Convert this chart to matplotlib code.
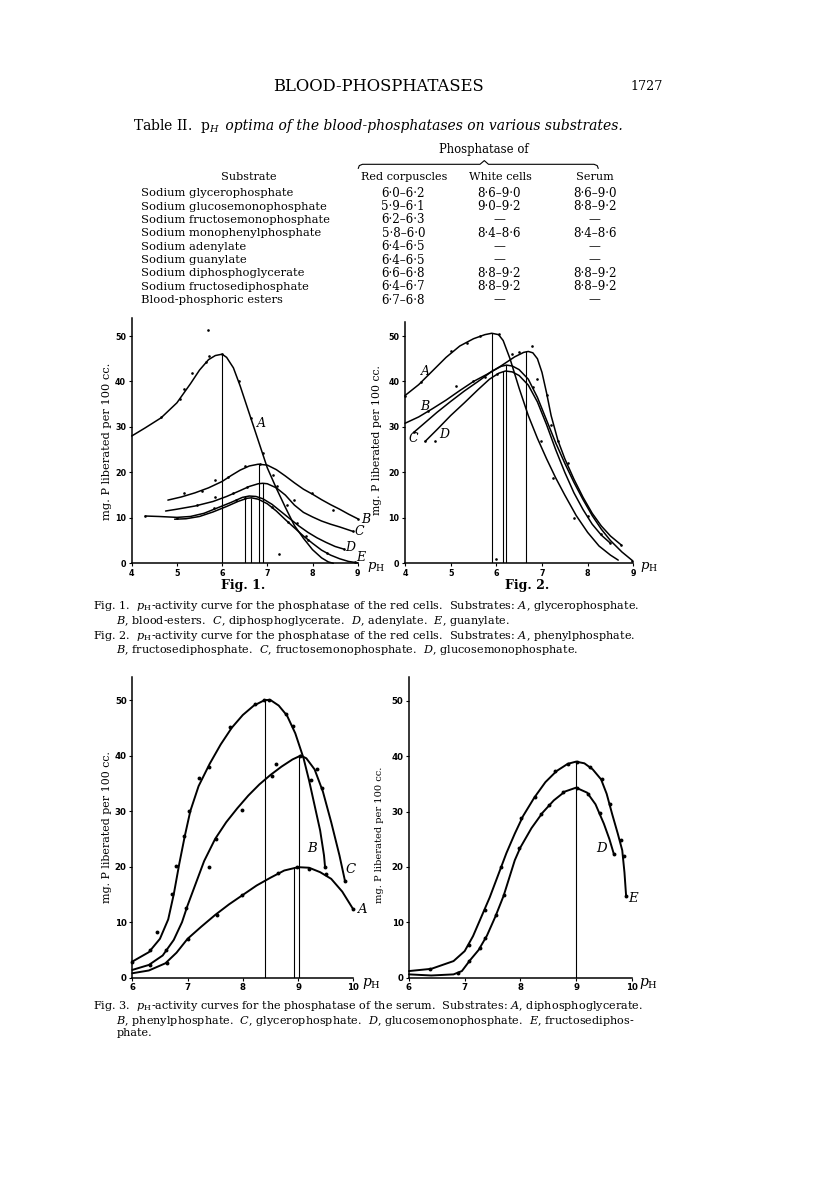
import matplotlib
matplotlib.use("Agg")
import matplotlib.pyplot as plt
from matplotlib.lines import Line2D

# ---------------- DATA ----------------
# Table II
table_substrates = ["Sodium glycerophosphate", "Sodium glucosemonophosphate",
                    "Sodium fructosemonophosphate", "Sodium monophenylphosphate",
                    "Sodium adenylate", "Sodium guanylate", "Sodium diphosphoglycerate",
                    "Sodium fructosediphosphate", "Blood-phosphoric esters"]
table_red = ["6·0–6·2", "5·9–6·1", "6·2–6·3", "5·8–6·0", "6·4–6·5", "6·4–6·5",
             "6·6–6·8", "6·4–6·7", "6·7–6·8"]
table_white = ["8·6–9·0", "9·0–9·2", "—", "8·4–8·6", "—", "—", "8·8–9·2", "8·8–9·2", "—"]
table_serum = ["8·6–9·0", "8·8–9·2", "—", "8·4–8·6", "—", "—", "8·8–9·2", "8·8–9·2", "—"]

# Fig. 1 (red cells)
f1_A_x = [4.0, 4.3, 4.65, 5.0, 5.3, 5.5, 5.7, 5.85, 6.0, 6.1, 6.25, 6.4, 6.55, 6.7, 6.85, 7.0, 7.2, 7.4, 7.6, 7.8, 8.0, 8.2, 8.35, 8.46]
f1_A_y = [28.0, 29.8, 32.0, 35.3, 39.5, 42.5, 44.8, 45.7, 46.0, 45.3, 43.0, 39.0, 34.5, 30.0, 25.5, 21.0, 16.5, 12.3, 8.3, 5.5, 3.0, 1.2, 0.3, 0.0]
f1_B_x = [4.8, 5.1, 5.4, 5.7, 6.0, 6.2, 6.4, 6.6, 6.8, 7.0, 7.2, 7.4, 7.6, 7.8, 8.0, 8.2, 8.4, 8.6, 8.8, 9.0]
f1_B_y = [13.9, 14.6, 15.5, 16.6, 18.0, 19.3, 20.5, 21.4, 21.8, 21.6, 20.6, 19.2, 17.7, 16.3, 15.2, 14.0, 12.9, 11.9, 10.8, 9.8]
f1_C_x = [4.75, 5.0, 5.4, 5.8, 6.1, 6.4, 6.6, 6.8, 6.9, 7.0, 7.2, 7.4, 7.6, 7.8, 8.0, 8.2, 8.4, 8.6, 8.9]
f1_C_y = [11.5, 11.9, 12.6, 13.6, 14.7, 16.0, 16.9, 17.5, 17.6, 17.5, 16.6, 15.0, 12.8, 11.2, 10.2, 9.3, 8.6, 8.0, 7.0]
f1_D_x = [4.3, 4.6, 5.0, 5.3, 5.6, 5.9, 6.2, 6.45, 6.6, 6.75, 6.9, 7.1, 7.3, 7.5, 7.7, 7.9, 8.1, 8.3, 8.5, 8.7]
f1_D_y = [10.4, 10.3, 10.1, 10.3, 11.0, 12.2, 13.4, 14.5, 14.8, 14.7, 14.2, 13.0, 11.4, 9.8, 8.2, 6.8, 5.6, 4.6, 3.7, 3.1]
f1_E_x = [4.95, 5.2, 5.5, 5.8, 6.1, 6.35, 6.55, 6.65, 6.8, 7.0, 7.2, 7.4, 7.6, 7.8, 8.0, 8.2, 8.4, 8.6, 8.8, 9.0]
f1_E_y = [9.7, 9.8, 10.3, 11.3, 12.5, 13.6, 14.3, 14.4, 14.1, 13.1, 11.5, 9.6, 7.8, 6.0, 4.4, 2.9, 1.8, 1.0, 0.4, 0.1]
f1_dots_x = [4.65, 5.07, 5.16, 5.33, 5.64, 5.72, 5.99, 6.38, 6.63, 6.91, 7.43, 7.65, 7.91, 5.69,
             5.16, 5.55, 5.84, 6.14, 6.51, 6.84, 7.13, 7.98, 8.46, 9.0,
             5.44, 5.84, 6.25, 6.54, 7.21, 7.58, 8.89,
             4.3, 5.0, 5.81, 6.3, 6.5, 7.1, 7.45, 7.85, 8.7, 8.31, 8.93, 7.26]
f1_dots_y = [32.1, 36.1, 38.3, 41.9, 44.3, 45.5, 46.0, 40.0, 31.9, 24.2, 12.8, 8.8, 5.1, 51.3,
             15.4, 15.9, 18.3, 18.9, 21.3, 21.8, 19.4, 15.4, 11.7, 9.8,
             12.8, 14.5, 15.4, 16.7, 16.9, 13.9, 7.0,
             10.4, 10.0, 12.1, 14.0, 14.3, 12.3, 9.0, 6.0, 3.1, 2.2, 0.2, 2.0]
f1_opt_x = [6.0, 6.51, 6.63, 6.82, 6.90]
f1_opt_top = [46.0, 14.7, 14.4, 21.8, 17.6]

# Fig. 2 (red cells)
f2_A_x = [4.0, 4.3, 4.6, 4.9, 5.2, 5.5, 5.75, 5.9, 6.05, 6.15, 6.3, 6.5, 6.7, 6.9, 7.1, 7.3, 7.5, 7.75, 8.0, 8.25, 8.5, 8.67]
f2_A_y = [36.9, 39.3, 42.3, 45.3, 47.8, 49.4, 50.3, 50.6, 50.3, 49.0, 45.0, 38.5, 32.5, 27.5, 23.0, 18.8, 15.0, 10.5, 6.8, 3.8, 1.8, 0.7]
f2_B_x = [4.0, 4.3, 4.6, 4.9, 5.2, 5.5, 5.8, 6.1, 6.4, 6.6, 6.7, 6.8, 6.9, 7.0, 7.1, 7.2, 7.35, 7.5, 7.7, 7.9, 8.1, 8.3, 8.5, 8.74]
f2_B_y = [30.8, 32.2, 34.0, 35.9, 38.0, 40.0, 41.6, 43.4, 45.4, 46.4, 46.6, 46.3, 45.0, 42.0, 37.5, 32.5, 27.0, 23.0, 18.5, 14.5, 11.0, 8.2, 6.0, 4.0]
f2_C_x = [4.18, 4.4, 4.7, 5.0, 5.3, 5.6, 5.9, 6.1, 6.22, 6.35, 6.5, 6.7, 6.9, 7.1, 7.3, 7.5, 7.7, 7.9, 8.1, 8.3, 8.5, 8.75, 8.98]
f2_C_y = [28.7, 30.6, 33.2, 35.6, 37.9, 40.0, 42.2, 43.3, 43.6, 43.4, 42.6, 40.5, 36.5, 31.5, 26.5, 22.0, 17.8, 14.0, 10.5, 7.5, 5.0, 2.5, 0.6]
f2_D_x = [4.44, 4.7, 5.0, 5.3, 5.6, 5.85, 6.05, 6.2, 6.35, 6.5, 6.7, 6.9, 7.1, 7.3, 7.5, 7.7, 7.9, 8.1, 8.3, 8.49]
f2_D_y = [26.8, 29.4, 32.5, 35.3, 38.2, 40.5, 41.8, 42.3, 42.1, 41.3, 39.2, 35.5, 30.5, 25.0, 20.0, 15.5, 11.8, 8.6, 6.2, 4.5]
f2_dots_x = [4.0, 4.35, 5.0, 5.12, 5.35, 5.64, 6.05, 6.97, 7.25, 7.7,
             4.5, 5.5, 6.35, 6.5, 6.79, 7.1, 7.35, 7.58, 8.74,
             4.2, 5.75, 6.9, 7.2, 8.0, 8.98,
             4.44, 4.65, 6.02, 6.8, 8.3, 8.49, 5.99]
f2_dots_y = [36.9, 39.8, 46.7, 39.0, 48.5, 49.9, 50.5, 26.8, 18.7, 10.0,
             33.5, 40.1, 46.1, 46.4, 47.8, 37.0, 27.0, 22.0, 4.0,
             28.8, 41.0, 40.5, 30.5, 10.3, 0.6,
             26.8, 26.8, 41.7, 38.8, 6.5, 4.5, 0.95]
f2_opt_x = [5.90, 6.15, 6.21, 6.66]
f2_opt_top = [50.6, 42.3, 43.6, 46.6]

# Fig. 3 (serum), left panel
f3_A_x = [6.0, 6.3, 6.6, 6.8, 7.0, 7.25, 7.5, 7.75, 8.0, 8.25, 8.5, 8.75, 9.0, 9.2, 9.4, 9.6, 9.8, 10.0]
f3_A_y = [0.8, 1.3, 2.6, 4.5, 7.0, 9.2, 11.3, 13.2, 14.9, 16.6, 18.0, 19.3, 19.9, 19.8, 19.0, 17.8, 15.5, 12.3]
f3_B_x = [6.0, 6.3, 6.5, 6.65, 6.75, 6.85, 6.95, 7.05, 7.2, 7.4, 7.6, 7.8, 8.0, 8.2, 8.4, 8.5, 8.65, 8.8, 8.95, 9.1, 9.2, 9.3, 9.4, 9.47, 9.49]
f3_B_y = [2.9, 4.6, 7.0, 10.5, 15.0, 20.5, 25.5, 30.0, 34.5, 38.5, 42.0, 45.0, 47.3, 49.0, 50.0, 50.0, 49.0, 47.2, 44.0, 39.5, 35.5, 31.0, 26.5, 22.0, 19.8]
f3_C_x = [6.0, 6.3, 6.55, 6.75, 6.9, 7.0, 7.15, 7.3, 7.5, 7.7, 7.9, 8.1, 8.3, 8.5, 8.7, 8.9, 9.05, 9.15, 9.3, 9.45, 9.6, 9.75, 9.85]
f3_C_y = [1.4, 2.3, 4.0, 6.8, 10.0, 13.0, 17.0, 21.0, 25.0, 28.0, 30.5, 32.8, 34.8, 36.5, 38.0, 39.3, 40.0, 39.5, 37.5, 33.5, 28.0, 22.0, 17.4]
f3_dots_x = [6.0, 6.32, 6.44, 6.72, 6.79, 6.94, 7.03, 7.21, 7.38, 7.77, 8.22, 8.38, 8.47, 8.78, 8.90, 9.23, 9.49,
             6.32, 6.61, 6.98, 7.39, 7.51, 7.98, 8.52, 8.60, 9.03, 9.34, 9.43, 9.85,
             6.62, 7.01, 7.53, 7.98, 8.64, 8.99, 9.19, 9.51, 10.0]
f3_dots_y = [2.9, 4.9, 8.3, 15.0, 20.2, 25.6, 30.0, 36.0, 38.0, 45.1, 49.3, 50.0, 50.0, 47.4, 45.4, 35.6, 20.0,
             2.3, 4.9, 12.5, 20.0, 25.0, 30.2, 36.3, 38.5, 39.9, 37.5, 34.1, 17.4,
             2.6, 7.0, 11.3, 14.9, 18.8, 19.9, 19.6, 18.7, 12.3]
f3_opt_x = [8.40, 8.92, 9.02]
f3_opt_top = [50.0, 20.0, 40.0]

# Fig. 3 (serum), right panel
f4_D_x = [6.0, 6.4, 6.8, 6.95, 7.1, 7.25, 7.4, 7.55, 7.7, 7.8, 7.9, 8.0, 8.2, 8.4, 8.6, 8.8, 9.0, 9.2, 9.35, 9.5, 9.6, 9.68]
f4_D_y = [0.6, 0.4, 0.6, 1.2, 3.2, 5.0, 7.6, 11.0, 14.8, 18.0, 21.2, 23.5, 27.0, 29.8, 32.0, 33.6, 34.3, 33.4, 31.3, 27.8, 25.0, 22.3]
f4_E_x = [6.0, 6.4, 6.8, 7.0, 7.15, 7.3, 7.45, 7.6, 7.75, 7.9, 8.05, 8.25, 8.45, 8.65, 8.85, 9.0, 9.15, 9.3, 9.45, 9.55, 9.65, 9.75, 9.83, 9.87, 9.9]
f4_E_y = [1.2, 1.6, 3.0, 4.8, 7.5, 11.0, 14.5, 18.5, 22.5, 26.0, 29.2, 32.5, 35.3, 37.3, 38.6, 39.0, 38.7, 37.6, 35.8, 33.2, 29.5, 26.0, 23.0, 19.0, 14.7]
f4_dots_x = [6.38, 7.08, 7.37, 7.65, 8.02, 8.26, 8.62, 8.86, 9.01, 9.25, 9.47, 9.61, 9.80, 9.86, 9.90,
             6.88, 7.08, 7.28, 7.37, 7.56, 7.71, 7.98, 8.37, 8.51, 8.76, 9.01, 9.21, 9.43, 9.68]
f4_dots_y = [1.5, 5.9, 12.3, 19.9, 28.9, 32.7, 37.4, 38.6, 39.0, 38.0, 35.9, 31.3, 24.8, 22.0, 14.7,
             0.9, 3.0, 5.3, 7.1, 11.3, 14.9, 23.5, 29.5, 31.2, 33.6, 34.3, 33.2, 29.8, 22.3]
f4_opt_x = [9.0]
f4_opt_top = [39.0]

# Captions
cap_fig12 = [r"Fig. 1.  $p_{\rm H}$-activity curve for the phosphatase of the red cells.  Substrates: $A$, glycerophosphate.",
             r"$B$, blood-esters.  $C$, diphosphoglycerate.  $D$, adenylate.  $E$, guanylate.",
             r"Fig. 2.  $p_{\rm H}$-activity curve for the phosphatase of the red cells.  Substrates: $A$, phenylphosphate.",
             r"$B$, fructosediphosphate.  $C$, fructosemonophosphate.  $D$, glucosemonophosphate."]
cap_fig3 = [r"Fig. 3.  $p_{\rm H}$-activity curves for the phosphatase of the serum.  Substrates: $A$, diphosphoglycerate.",
            r"$B$, phenylphosphate.  $C$, glycerophosphate.  $D$, glucosemonophosphate.  $E$, fructosediphos-",
            "phate."]

# ---------------- FIGURE ----------------
W, H = 816, 1188
plt.rcParams["mathtext.fontset"] = "dejavuserif"
fig = plt.figure(figsize=(W / 100, H / 100), dpi=100)
fig.patch.set_facecolor("white")
renderer = fig.canvas.get_renderer()
SERIF = "DejaVu Serif"


def fx(x):
    return x / W


def fy(y):
    return 1 - y / H


def put(x, y, s, size, ha="left", va="center", rot=0, **kw):
    return fig.text(fx(x), fy(y), s, fontsize=size, ha=ha, va=va, rotation=rot,
                    family=SERIF, **kw)


def fit(x, y, s, width, ha="left", va="center", rot=0, **kw):
    t = put(x, y, s, 10, ha=ha, va=va, rot=rot, **kw)
    bb = t.get_window_extent(renderer=renderer)
    cur = bb.height if rot else bb.width
    size = 10 * width / cur
    t.set_fontsize(size)
    return size


def measure(s, size, **kw):
    t = put(0, 0, s, size, **kw)
    w = t.get_window_extent(renderer=renderer).width
    t.remove()
    return w


def run(x, y, pieces, width):
    def place(sz):
        arts, cx = [], x
        for s, kw in pieces:
            t = put(cx, y, s, sz, **kw)
            cx += t.get_window_extent(renderer=renderer).width
            arts.append(t)
        return arts, cx - x
    arts, w = place(10)
    for a in arts:
        a.remove()
    place(10 * width / w)


def caption(lines, xs, ys, size):
    """Place caption lines at target y's, nudging down only to avoid overlap."""
    prev_bottom = None
    shift = 0.0
    for s, x, y in zip(lines, xs, ys):
        yy = y + shift
        t = put(x, yy, s, size)
        bb = t.get_window_extent(renderer=renderer)
        top_px = H - bb.y1
        if prev_bottom is not None and top_px < prev_bottom + 0.6:
            d = prev_bottom + 0.6 - top_px
            shift += d
            yy += d
            t.set_position((fx(x), fy(yy)))
            bb = t.get_window_extent(renderer=renderer)
        prev_bottom = H - bb.y0


# Header
fit(272.8, 86.7, "BLOOD-PHOSPHATASES", 209.5)
fit(630.7, 86.7, "1727", 32.6)

# Title
run(133.3, 126.0, [(r"Table II.  $\mathrm{p}_{\mathit{H}}$", {}),
                   (" optima of the blood-phosphatases on various substrates.", {"style": "italic"})],
    489.0)

# Table headers
fit(484.3, 150.0, "Phosphatase of", 89.5, ha="center")
bx = [358.3, 359.3, 362.5, 480.0, 484.3, 488.5, 594.0, 597.2, 598.2]
by = [168.3, 165.6, 164.3, 164.3, 160.6, 164.3, 164.3, 165.6, 168.3]
fig.add_artist(Line2D([fx(v) for v in bx], [fy(v) for v in by], color="black", lw=0.8))
hs = fit(248.4, 177.0, "Substrate", 56.0, ha="center")
put(404.0, 177.0, "Red corpuscles", hs, ha="center")
put(500.0, 177.0, "White cells", hs, ha="center")
put(594.5, 177.0, "Serum", hs, ha="center")

rs = fit(140.7, 193.3, table_substrates[0], 152.0)
vs = fit(403.3, 193.3, table_red[0], 43.3, ha="center")
for i, name in enumerate(table_substrates):
    yy = 193.3 + i * 13.34
    if i > 0:
        put(140.7, yy, name, rs)
        put(403.3, yy, table_red[i], vs, ha="center")
    put(499.0, yy, table_white[i], vs, ha="center")
    put(594.5, yy, table_serum[i], vs, ha="center")


# ---------------- AXES ----------------
def make_ax(px0, px1, pybot, py50, pytop, xlo, xhi, tsize):
    ylim_top = 50 * (pybot - pytop) / (pybot - py50)
    ax = fig.add_axes([px0 / W, 1 - pybot / H, (px1 - px0) / W, (pybot - pytop) / H])
    ax.set_xlim(xlo, xhi)
    ax.set_ylim(0, ylim_top)
    ax.patch.set_alpha(0)
    for s in ("top", "right"):
        ax.spines[s].set_visible(False)
    for s in ("left", "bottom"):
        ax.spines[s].set_linewidth(1.1)
    ax.set_xticks(range(int(xlo), int(xhi) + 1))
    ax.set_yticks([0, 10, 20, 30, 40, 50])
    ax.tick_params(direction="out", length=2.5, width=0.8, pad=1.5, labelsize=tsize)
    for lab in ax.get_xticklabels() + ax.get_yticklabels():
        lab.set_fontweight("bold")
        lab.set_family("DejaVu Sans")
    return ax


def draw(ax, curves, dx, dy, ox, otop, lw, ms):
    for xs, ys in curves:
        ax.plot(xs, ys, color="black", lw=lw, solid_capstyle="round", clip_on=False)
    ax.plot(dx, dy, "o", color="black", ms=ms, mew=0, clip_on=False)
    ax.vlines(ox, 0, otop, color="black", lw=0.8)


def labels(ax, items, size):
    for (x, y, s) in items:
        ax.text(x, y, s, fontsize=size, style="italic", family=SERIF, ha="center",
                va="center", clip_on=False)


ax1 = make_ax(131.7, 357.7, 563.3, 336.0, 318.0, 4, 9, 5.8)
draw(ax1, [(f1_A_x, f1_A_y), (f1_B_x, f1_B_y), (f1_C_x, f1_C_y), (f1_D_x, f1_D_y), (f1_E_x, f1_E_y)],
     f1_dots_x, f1_dots_y, f1_opt_x, f1_opt_top, 1.1, 1.9)
labels(ax1, [(6.88, 30.8, "A"), (9.18, 9.7, "B"), (9.03, 7.1, "C"), (8.84, 3.4, "D"), (9.07, 1.3, "E")], 9)
ax1.text(9.2, -0.9, r"$p_{\rm H}$", fontsize=9.5, ha="left", va="center", clip_on=False)

ax2 = make_ax(405.0, 633.3, 563.3, 336.0, 321.7, 4, 9, 5.8)
draw(ax2, [(f2_A_x, f2_A_y), (f2_B_x, f2_B_y), (f2_C_x, f2_C_y), (f2_D_x, f2_D_y)],
     f2_dots_x, f2_dots_y, f2_opt_x, f2_opt_top, 1.1, 1.9)
labels(ax2, [(4.44, 42.2, "A"), (4.44, 34.6, "B"), (4.18, 27.5, "C"), (4.85, 28.3, "D")], 9)
ax2.text(9.14, -0.9, r"$p_{\rm H}$", fontsize=9.5, ha="left", va="center", clip_on=False)

ax3 = make_ax(132.3, 353.3, 977.7, 700.0, 677.0, 6, 10, 6.2)
draw(ax3, [(f3_A_x, f3_A_y), (f3_B_x, f3_B_y), (f3_C_x, f3_C_y)],
     f3_dots_x, f3_dots_y, f3_opt_x, f3_opt_top, 1.4, 2.8)
labels(ax3, [(9.26, 23.3, "B"), (9.95, 19.5, "C"), (10.15, 12.3, "A")], 9.5)
ax3.text(10.15, -1.1, r"$p_{\rm H}$", fontsize=10, ha="left", va="center", clip_on=False)

ax4 = make_ax(409.0, 631.7, 977.7, 700.7, 677.0, 6, 10, 6.2)
draw(ax4, [(f4_D_x, f4_D_y), (f4_E_x, f4_E_y)],
     f4_dots_x, f4_dots_y, f4_opt_x, f4_opt_top, 1.4, 2.8)
labels(ax4, [(9.45, 23.3, "D"), (10.03, 14.3, "E")], 9.5)
ax4.text(10.13, -1.1, r"$p_{\rm H}$", fontsize=10, ha="left", va="center", clip_on=False)

# y-axis labels
ylab = "mg. P liberated per 100 cc."
fit(106.7, 441.7, ylab, 157.0, ha="center", rot=90)
fit(376.7, 440.0, ylab, 150.0, ha="center", rot=90)
fit(106.7, 827.3, ylab, 152.0, ha="center", rot=90)
fit(380.0, 835.0, ylab, 137.0, ha="center", rot=90)

# Figure numbers
put(243.3, 585.0, "Fig. 1.", 9, ha="center", weight="bold")
put(526.7, 585.0, "Fig. 2.", 9, ha="center", weight="bold")

# Captions (one common size, derived from the first line's width)
cap_size = 10 * 548.0 / measure(cap_fig12[0], 10)
caption(cap_fig12, [93.3, 116.4, 93.3, 116.4], [606.2, 617.5, 632.3, 643.3], cap_size)
caption(cap_fig3, [93.3, 116.4, 116.4], [1006.2, 1017.7, 1028.3], cap_size)

fig.savefig("out.png", dpi=100, facecolor="white")
